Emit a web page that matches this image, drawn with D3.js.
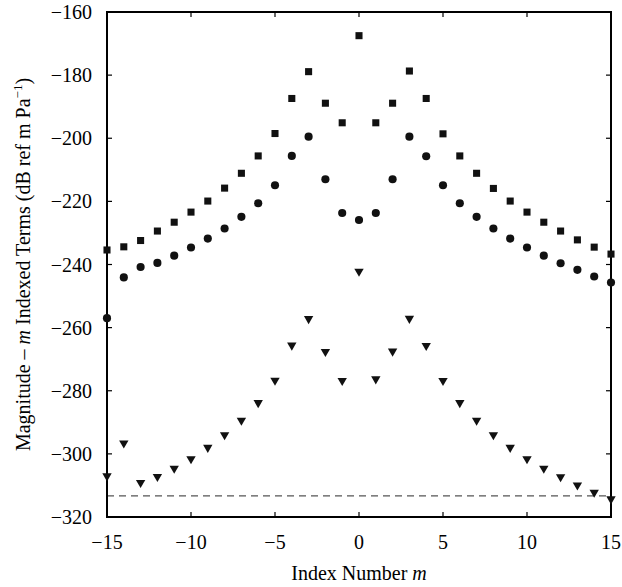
<!DOCTYPE html>
<html>
<head>
<meta charset="utf-8">
<script src="https://cdn.jsdelivr.net/npm/d3@7"></script>
<style>
  body { margin: 0; background: #fff; }
  svg { display: block; font-family: "Liberation Serif", "DejaVu Serif", serif; }
</style>
</head>
<body>
<div id="chart"></div>
<script>
// index numbers m
const m_values = d3.range(-15, 16);
// magnitude of the m-indexed terms (dB)
const squares = [-235.4, -234.4, -232.4, -229.4, -226.6, -223.4, -219.9, -215.8, -211.1, -205.6,
  -198.5, -187.4, -178.9, -188.9, -195.1, -167.5, -195.1, -188.9, -178.7, -187.4,
  -198.6, -205.6, -211.1, -215.9, -219.9, -223.4, -226.6, -229.4, -232.2, -234.5, -236.7];
const circles = [-257.0, -244.1, -240.8, -239.5, -237.2, -234.6, -231.8, -228.6, -224.9, -220.6,
  -214.9, -205.6, -199.5, -213.0, -223.7, -225.9, -223.7, -213.0, -199.5, -205.7,
  -214.9, -220.6, -224.9, -228.6, -231.8, -234.6, -237.2, -239.6, -241.7, -243.8, -245.7];
const triangles = [-307.0, -296.6, -309.1, -307.2, -304.6, -301.6, -298.0, -294.0, -289.4, -283.8,
  -276.7, -265.6, -257.2, -267.6, -276.8, -242.2, -276.3, -267.5, -257.1, -265.7,
  -276.8, -283.8, -289.4, -294.0, -298.0, -301.6, -304.6, -307.3, -309.9, -312.2, -314.3];
const noise_floor = -313.3;
const x_ticks = [-15, -10, -5, 0, 5, 10, 15];
const y_ticks = [-320, -300, -280, -260, -240, -220, -200, -180, -160];

const width = 622, height = 587;
const plot_left = 107, plot_right = 611, plot_top = 12, plot_bottom = 517;

const svg = d3.select("#chart").append("svg")
  .attr("width", width)
  .attr("height", height);

const x = d3.scaleLinear().domain([-15, 15]).range([plot_left, plot_right]);
const y = d3.scaleLinear().domain([-320, -160]).range([plot_bottom, plot_top]);

// dashed reference line
svg.append("line")
  .attr("x1", x(-15)).attr("x2", x(15))
  .attr("y1", y(noise_floor)).attr("y2", y(noise_floor))
  .attr("stroke", "#555")
  .attr("stroke-width", 1.3)
  .attr("stroke-dasharray", "7,5");

// inward ticks on all four sides
const tick_len = 5;
const ticks = svg.append("g").attr("stroke", "#000").attr("stroke-width", 1.2);
x_ticks.forEach(t => {
  ticks.append("line").attr("x1", x(t)).attr("x2", x(t)).attr("y1", plot_bottom).attr("y2", plot_bottom - tick_len);
  ticks.append("line").attr("x1", x(t)).attr("x2", x(t)).attr("y1", plot_top).attr("y2", plot_top + tick_len);
});
y_ticks.forEach(t => {
  ticks.append("line").attr("x1", plot_left).attr("x2", plot_left + tick_len).attr("y1", y(t)).attr("y2", y(t));
  ticks.append("line").attr("x1", plot_right).attr("x2", plot_right - tick_len).attr("y1", y(t)).attr("y2", y(t));
});

// frame
svg.append("rect")
  .attr("x", plot_left).attr("y", plot_top)
  .attr("width", plot_right - plot_left).attr("height", plot_bottom - plot_top)
  .attr("fill", "none")
  .attr("stroke", "#000")
  .attr("stroke-width", 2);

const fmt = d3.format("d");
svg.append("g").selectAll("text")
  .data(x_ticks)
  .enter()
  .append("text")
    .attr("x", d => x(d))
    .attr("y", plot_bottom + 32)
    .attr("text-anchor", "middle")
    .attr("font-size", 20)
    .text(d => fmt(d));

svg.append("g").selectAll("text")
  .data(y_ticks)
  .enter()
  .append("text")
    .attr("x", plot_left - 15)
    .attr("y", d => y(d) + 7)
    .attr("text-anchor", "end")
    .attr("font-size", 20)
    .text(d => fmt(d));

// axis titles
const xt = svg.append("text")
  .attr("x", (plot_left + plot_right) / 2)
  .attr("y", 580)
  .attr("text-anchor", "middle")
  .attr("font-size", 20);
xt.append("tspan").text("Index Number ");
xt.append("tspan").attr("font-style", "italic").text("m");

const yt = svg.append("text")
  .attr("transform", "translate(30," + ((plot_top + plot_bottom) / 2) + ") rotate(-90)")
  .attr("text-anchor", "middle")
  .attr("font-size", 20);
yt.append("tspan").text("Magnitude \u2013 ");
yt.append("tspan").attr("font-style", "italic").text("m");
yt.append("tspan").text(" Indexed Terms (dB ref m Pa");
yt.append("tspan").attr("font-size", 13).attr("dy", -8).text("\u22121");
yt.append("tspan").attr("dy", 8).text(")");

// markers
const series = [
  {values: squares, type: d3.symbolSquare, size: 50, rot: 0},
  {values: circles, type: d3.symbolCircle, size: 52, rot: 0},
  {values: triangles, type: d3.symbolTriangle, size: 38, rot: 180}
];
series.forEach(s => {
  const sym = d3.symbol().type(s.type).size(s.size);
  svg.append("g").selectAll("path")
    .data(m_values.map((m, i) => ({m: m, v: s.values[i]})))
    .enter()
    .append("path")
      .attr("d", sym)
      .attr("transform", d => "translate(" + x(d.m) + "," + y(d.v) + ") rotate(" + s.rot + ")")
      .attr("fill", "#111");
});
</script>
</body>
</html>
